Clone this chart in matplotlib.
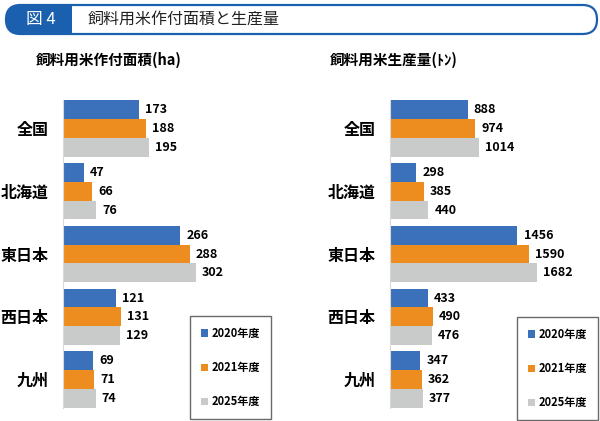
import matplotlib.pyplot as plt
from matplotlib.patches import FancyBboxPatch, Rectangle
import numpy as np

plt.rcParams['font.family'] = ['Noto Sans CJK JP', 'DejaVu Sans']

regions = ['全国', '北海道', '東日本', '西日本', '九州']
years = ['2020年度', '2021年度', '2025年度']
area = {'2020年度': [173, 47, 266, 121, 69],
        '2021年度': [188, 66, 288, 131, 71],
        '2025年度': [195, 76, 302, 129, 74]}
prod = {'2020年度': [888, 298, 1456, 433, 347],
        '2021年度': [974, 385, 1590, 490, 362],
        '2025年度': [1014, 440, 1682, 476, 377]}
colors = ['#3b70ba', '#ee8d1f', '#c9caca']
hdr_blue = '#1b60ae'

fig = plt.figure(figsize=(6, 4.21), dpi=100)

# header band in pixel coords
bg = fig.add_axes([0, 0, 1, 1])
bg.set_xlim(0, 600)
bg.set_ylim(421, 0)
bg.axis('off')
outline = FancyBboxPatch((6, 5), 591, 29, boxstyle='round,pad=0,rounding_size=14.5',
                         fc='white', ec=hdr_blue, lw=1.6)
bg.add_patch(outline)
fill = Rectangle((0, 0), 72, 40, fc=hdr_blue, ec='none')
bg.add_patch(fill)
fill.set_clip_path(outline)
bg.text(41, 19.5, '図 4', color='white', fontsize=12, ha='center', va='center')
bg.text(88, 19.5, '飼料用米作付面積と生産量', color='#222222', fontsize=11.5,
        ha='left', va='center')
bg.text(36, 60, '飼料用米作付面積(ha)', fontsize=10.5, fontweight='bold',
        ha='left', va='center')
bg.text(330, 60, '飼料用米生産量(ﾄﾝ)', fontsize=10.5, fontweight='bold',
        ha='left', va='center')

y = np.arange(len(regions))
h = 0.3
bottom = 1 - 408 / 421
top = 1 - 100 / 421


def panel(x0_px, xmax, data, leg_box):
    ax = fig.add_axes([x0_px / 600, bottom, 180 / 600, top - bottom])
    for i, yr in enumerate(years):
        bars = ax.barh(y + (i - 1) * h, data[yr], height=h, color=colors[i], label=yr)
        ax.bar_label(bars, padding=4.5, fontsize=9, fontweight='bold')
    ax.set_xlim(0, xmax)
    ax.set_ylim(4.45, -0.45)
    ax.set_yticks(y, regions, fontsize=11.5, fontweight='bold')
    ax.tick_params(axis='y', length=0, pad=10.5)
    ax.set_xticks([])
    for s in ['top', 'right', 'bottom']:
        ax.spines[s].set_visible(False)
    ax.spines['left'].set_color('#d9d9d9')
    ax.spines['left'].set_linewidth(0.8)
    leg = ax.legend(loc='center', bbox_to_anchor=leg_box, bbox_transform=fig.transFigure,
                    fancybox=False, edgecolor='#444444', frameon=True,
                    prop={'size': 8, 'weight': 'bold'}, handlelength=0.6,
                    handleheight=0.6, handletextpad=0.3, labelspacing=1.9,
                    borderpad=1.0)
    leg.get_frame().set_linewidth(1.0)
    return ax


panel(63, 180 / 0.44, area, ((230.5) / 600, 1 - 367.5 / 421))
panel(390, 180 / 0.0874, prod, ((557.5) / 600, 1 - 368.5 / 421))

fig.savefig('out.png', dpi=100)
